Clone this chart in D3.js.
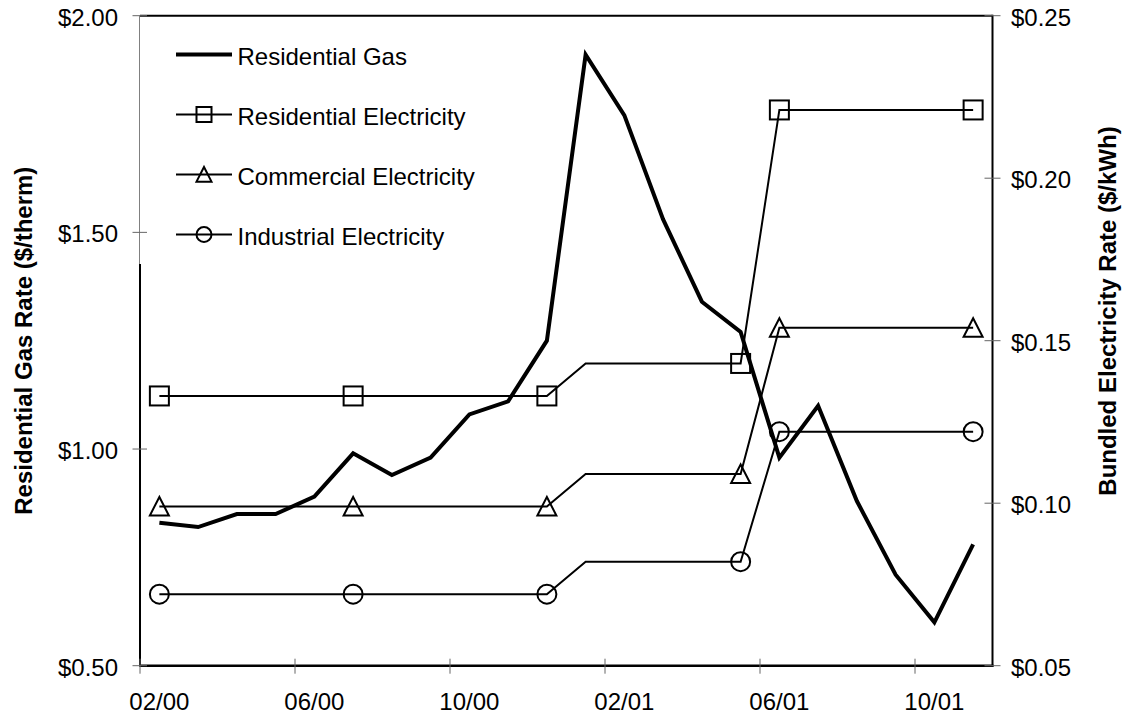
<!DOCTYPE html>
<html><head><meta charset="utf-8">
<script src="https://cdn.jsdelivr.net/npm/d3@7"></script>
<style>body{margin:0;background:#fff}text{font-family:"Liberation Sans",Arial,sans-serif;fill:#000}</style>
</head><body>
<svg id="c" width="1123" height="717"></svg>
<script>
// ---- data ----
const months = ["02/00","03/00","04/00","05/00","06/00","07/00","08/00","09/00","10/00","11/00","12/00",
                "01/01","02/01","03/01","04/01","05/01","06/01","07/01","08/01","09/01","10/01","11/01"];
const gasRate = [0.83,0.82,0.85,0.85,0.89,0.99,0.94,0.98,1.08,1.11,1.25,
                 1.91,1.77,1.53,1.34,1.27,0.98,1.10,0.88,0.71,0.60,0.78];
const elecDates = ["02/00","07/00","12/00","01/01","05/01","06/01","11/01"];
const resElec = [0.133,0.133,0.133,0.143,0.143,0.221,0.221];
const comElec = [0.099,0.099,0.099,0.109,0.109,0.154,0.154];
const indElec = [0.072,0.072,0.072,0.082,0.082,0.122,0.122];
const markerDates = ["02/00","07/00","12/00","05/01","06/01","11/01"];
const leftTicks = [0.50,1.00,1.50,2.00];
const rightTicks = [0.05,0.10,0.15,0.20,0.25];
const xTickLabels = ["02/00","06/00","10/00","02/01","06/01","10/01"];
const seriesNames = ["Residential Gas","Residential Electricity","Commercial Electricity","Industrial Electricity"];
const leftTitle = "Residential Gas Rate ($/therm)";
const rightTitle = "Bundled Electricity Rate ($/kWh)";

// ---- layout ----
const L = 140, R = 992.5, T = 15.7, B = 665.7;
const svg = d3.select("#c");
const x = d3.scaleBand().domain(months).range([L, R]).padding(0);
const cx = d => x(d) + x.bandwidth() / 2;
const yL = d3.scaleLinear().domain([0.5, 2.0]).range([B, T]);
const yR = d3.scaleLinear().domain([0.05, 0.25]).range([B, T]);

// frame
svg.append("line").attr("x1", L).attr("x2", R).attr("y1", T).attr("y2", T).attr("stroke", "#000").attr("stroke-width", 2);
svg.append("line").attr("x1", L - 0.5).attr("x2", L - 0.5).attr("y1", T).attr("y2", B).attr("stroke", "#808080").attr("stroke-width", 1);
svg.append("line").attr("x1", L).attr("x2", L).attr("y1", 264).attr("y2", B + 1).attr("stroke", "#000").attr("stroke-width", 2);
svg.append("line").attr("x1", L).attr("x2", R + 1).attr("y1", B).attr("y2", B).attr("stroke", "#000").attr("stroke-width", 2.5);
svg.append("line").attr("x1", R).attr("x2", R).attr("y1", T - 1).attr("y2", B + 1).attr("stroke", "#000").attr("stroke-width", 2);

// left ticks + labels
const lt = svg.append("g").selectAll("g").data(leftTicks).join("g");
lt.append("line").attr("x1", L - 7.5).attr("x2", L + 7).attr("y1", d => yL(d)).attr("y2", d => yL(d)).attr("stroke", "#666").attr("stroke-width", 1);
lt.append("text").attr("x", 118).attr("y", d => yL(d)).attr("dy", "0.42em").attr("text-anchor", "end")
  .style("font-size", "24px").text(d => "$" + d.toFixed(2));

// right ticks + labels
const rt = svg.append("g").selectAll("g").data(rightTicks).join("g");
rt.append("line").attr("x1", R - 8).attr("x2", R + 8).attr("y1", d => yR(d)).attr("y2", d => yR(d)).attr("stroke", "#666").attr("stroke-width", 1);
rt.append("text").attr("x", 1011).attr("y", d => yR(d)).attr("dy", "0.42em").attr("text-anchor", "start")
  .style("font-size", "24px").text(d => "$" + d.toFixed(2));

// bottom ticks (at slot boundaries) + labels (slot centres)
const bt = svg.append("g").selectAll("g").data(xTickLabels).join("g");
bt.append("line").attr("x1", d => x(d)).attr("x2", d => x(d)).attr("y1", B - 7).attr("y2", B + 8).attr("stroke", "#666").attr("stroke-width", 1);
bt.append("text").attr("x", d => cx(d)).attr("y", 710).attr("text-anchor", "middle").style("font-size", "24px").text(d => d);

// axis titles
svg.append("text").attr("transform", `translate(31.5,${(T + B) / 2}) rotate(-90)`).attr("text-anchor", "middle")
  .style("font-size", "24px").style("font-weight", "bold").text(leftTitle);
svg.append("text").attr("transform", `translate(1115.5,311) rotate(-90)`).attr("text-anchor", "middle")
  .style("font-size", "24px").style("font-weight", "bold").text(rightTitle);

// marker drawing
function marker(g, type, px, py, s) {
  if (type === "square") {
    g.append("rect").attr("x", px - s / 2).attr("y", py - s / 2).attr("width", s).attr("height", s)
      .attr("fill", "none").attr("stroke", "#000").attr("stroke-width", 2);
  } else if (type === "triangle") {
    const h = s / 2;
    g.append("path").attr("d", `M${px},${py - h}L${px - h},${py + h * 0.95}L${px + h},${py + h * 0.95}Z`)
      .attr("fill", "none").attr("stroke", "#000").attr("stroke-width", 2).attr("stroke-linejoin", "miter");
  } else if (type === "circle") {
    g.append("circle").attr("cx", px).attr("cy", py).attr("r", s / 2)
      .attr("fill", "none").attr("stroke", "#000").attr("stroke-width", 2);
  }
}

// electricity series
const elecSeries = [
  {vals: resElec, type: "square"},
  {vals: comElec, type: "triangle"},
  {vals: indElec, type: "circle"}
];
const lineR = d3.line().x(d => cx(d.m)).y(d => yR(d.v));
elecSeries.forEach(s => {
  const pts = elecDates.map((m, i) => ({m, v: s.vals[i]}));
  const g = svg.append("g");
  g.append("path").attr("d", lineR(pts)).attr("fill", "none").attr("stroke", "#000").attr("stroke-width", 2);
  pts.filter(p => markerDates.includes(p.m)).forEach(p => marker(g, s.type, cx(p.m), yR(p.v), 19));
});

// gas line
const lineL = d3.line().x(d => cx(d.m)).y(d => yL(d.v));
svg.append("path").attr("d", lineL(months.map((m, i) => ({m, v: gasRate[i]}))))
  .attr("fill", "none").attr("stroke", "#000").attr("stroke-width", 4).attr("stroke-linejoin", "miter").attr("stroke-miterlimit", 6);

// legend
const legTypes = ["thick", "square", "triangle", "circle"];
seriesNames.forEach((name, i) => {
  const ly = 54.5 + i * 60;
  const g = svg.append("g");
  g.append("line").attr("x1", 176).attr("x2", 232).attr("y1", ly).attr("y2", ly)
    .attr("stroke", "#000").attr("stroke-width", i === 0 ? 4 : 2);
  if (i > 0) marker(g, legTypes[i], 204, ly, 15);
  g.append("text").attr("x", 237.5).attr("y", ly + 10).style("font-size", "24px").text(name);
});
</script>
</body></html>
